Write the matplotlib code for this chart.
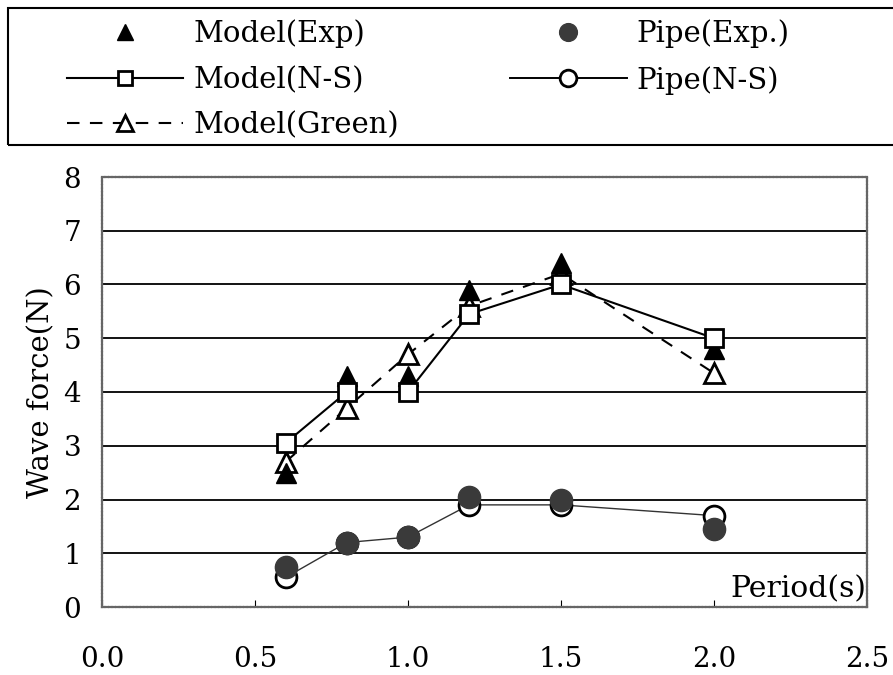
import matplotlib
matplotlib.use("Agg")
import matplotlib.pyplot as plt
from matplotlib.patches import Rectangle

plt.rcParams['font.family'] = ['DejaVu Serif']

# wave period (s)
period = [0.6, 0.8, 1.0, 1.2, 1.5, 2.0]

# wave force (N)
model_exp = [2.5, 4.3, 4.3, 5.9, 6.4, 4.8]
model_ns = [3.05, 4.0, 4.0, 5.45, 6.0, 5.0]
model_green = [2.7, 3.7, 4.7, 5.6, 6.2, 4.35]
pipe_exp = [0.75, 1.2, 1.3, 2.05, 2.0, 1.45]
pipe_ns = [0.55, 1.2, 1.3, 1.9, 1.9, 1.7]

x_ticks = [0.0, 0.5, 1.0, 1.5, 2.0, 2.5]
y_ticks = [0, 1, 2, 3, 4, 5, 6, 7, 8]

fig = plt.figure(figsize=(8.93, 6.75), dpi=100)
ax = fig.add_axes([102 / 893, 1 - 607 / 675, 765 / 893, 430 / 675])

ax.set_xlim(0, 2.5)
ax.set_ylim(0, 8)
for y in y_ticks[1:-1]:
    ax.axhline(y, color='black', lw=1.3, zorder=1)

l_pns, = ax.plot(period, pipe_ns, color='#333333', lw=1.0, marker='o', ms=15,
                 mfc='white', mec='black', mew=2, zorder=3)
l_pexp, = ax.plot(period, pipe_exp, ls='none', marker='o', ms=16,
                  mfc='#3a3a3a', mec='#3a3a3a', zorder=4)
l_green, = ax.plot(period, model_green, color='black', lw=1.5, ls=(0, (6, 5)),
                   marker='^', ms=14, mfc='white', mec='black', mew=2, zorder=3)
l_mexp, = ax.plot(period, model_exp, ls='none', marker='^', ms=14,
                  mfc='black', mec='black', zorder=4)
l_ns, = ax.plot(period, model_ns, color='black', lw=1.5, marker='s', ms=13,
                mfc='white', mec='black', mew=2, zorder=5)

ax.set_xticks(x_ticks)
ax.set_xticklabels(["%.1f" % v for v in x_ticks])
ax.set_yticks(y_ticks)
ax.tick_params(axis='x', direction='in', length=5, pad=28, labelsize=20)
ax.tick_params(axis='y', length=0, pad=15, labelsize=20)
for s in ax.spines.values():
    s.set_color('#666666')
    s.set_linewidth(1.6)
    s.set_linestyle((0, (1, 0.6)))

ax.set_ylabel("Wave force(N)", fontsize=21, labelpad=6)
ax.text(0.999, 0.022, "Period(s)", transform=ax.transAxes, ha='right',
        va='baseline', fontsize=21.5)

# legend box runs off the right edge
fig.patches.append(Rectangle((8 / 893, 1 - 145 / 675), 1.0, 137 / 675,
                             transform=fig.transFigure, fill=False,
                             edgecolor='black', lw=1.5))
leg = fig.legend([l_mexp, l_ns, l_green, l_pexp, l_pns],
                 ["Model(Exp)", "Model(N-S)", "Model(Green)", "Pipe(Exp.)", "Pipe(N-S)"],
                 ncol=2, loc='upper left', bbox_to_anchor=(52 / 893, 1 - 5 / 675),
                 frameon=False, fontsize=21, handlelength=4.0, handletextpad=0.35,
                 columnspacing=3.8, labelspacing=0.6, borderpad=0.0,
                 markerscale=0.8)
leg.legend_handles[4].set_color('black')
leg.legend_handles[4].set_linewidth(1.4)

plt.savefig("out.png", dpi=100)
